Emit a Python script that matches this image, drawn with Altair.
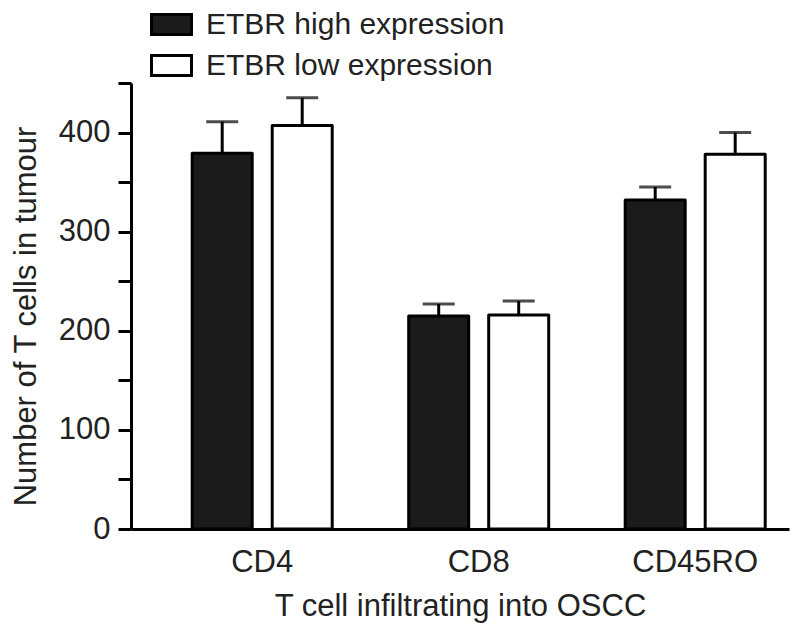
import altair as alt
import pandas as pd

categories = ["CD4", "CD8", "CD45RO"]
groups = ["ETBR high expression", "ETBR low expression"]
high_mean = [379, 215, 332]
high_sem = [32, 12, 13]
low_mean = [407, 216, 378]
low_sem = [28, 14, 22]

rows = []
for i, c in enumerate(categories):
    rows.append({"cat": c, "group": groups[0], "mean": high_mean[i],
                 "upper": high_mean[i] + high_sem[i]})
    rows.append({"cat": c, "group": groups[1], "mean": low_mean[i],
                 "upper": low_mean[i] + low_sem[i]})
df = pd.DataFrame(rows)

FONT = "Liberation Sans"
TXT = "#222222"

x_enc = alt.X(
    "cat:N", sort=categories,
    scale=alt.Scale(paddingInner=0.3533, paddingOuter=0.1963, align=0.72),
    axis=alt.Axis(title="T cell infiltrating into OSCC", labelAngle=0, ticks=False,
                  tickSize=0, labelPadding=18, titlePadding=14),
)
xoff_enc = alt.XOffset("group:N", sort=groups,
                       scale=alt.Scale(paddingInner=0.25, paddingOuter=0))

y_scale = alt.Scale(domain=[0, 450], nice=False)

base = alt.Chart(df).encode(x=x_enc, xOffset=xoff_enc)

bars = base.mark_bar(stroke="black", strokeWidth=3, strokeJoin="round").encode(
    y=alt.Y("mean:Q", scale=y_scale,
            axis=alt.Axis(values=list(range(0, 451, 25)),
                          labelExpr="datum.value % 100 === 0 ? datum.label : ''",
                          labelOverlap=False,
                          title="Number of T cells in tumour",
                          grid=False, tickSize=13, labelPadding=8,
                          titleX=-96, titleY=233, titleAngle=-90,
                          titleFontSize=31,
                          titleBaseline="alphabetic", titleAlign="center")),
    fill=alt.Fill("group:N", sort=groups,
                  scale=alt.Scale(domain=groups, range=["#1b1b1b", "#ffffff"]),
                  legend=alt.Legend(title=None, orient="none", legendX=19, legendY=-80,
                                    padding=0, rowPadding=3, labelOffset=13,
                                    symbolType="M-1,-0.5H1V0.5H-1Z", symbolSize=1600,
                                    symbolStrokeColor="black", symbolStrokeWidth=3,
                                    labelFont=FONT, labelFontSize=30, labelColor=TXT,
                                    direction="vertical", labelLimit=600)),
)

rule = base.mark_rule(color="black", strokeWidth=3).encode(
    y=alt.Y("mean:Q", scale=y_scale), y2="upper:Q")
cap = base.mark_tick(color="black", thickness=3, size=32).encode(
    y=alt.Y("upper:Q", scale=y_scale))

chart = alt.layer(rule, bars, cap).properties(
    width=658, height=446,
    autosize=alt.AutoSizeParams(type="none"),
    padding={"left": 123, "top": 75, "right": 2, "bottom": 100},
).configure_view(stroke=None).configure_axis(
    domainColor="black", domainWidth=3, tickColor="black", tickWidth=3,
    labelFont=FONT, labelFontSize=31, labelColor=TXT,
    titleFont=FONT, titleFontSize=31, titleFontWeight="normal", titleColor=TXT,
)

chart.save("out.html", embed_options={"renderer": "svg", "actions": False})
